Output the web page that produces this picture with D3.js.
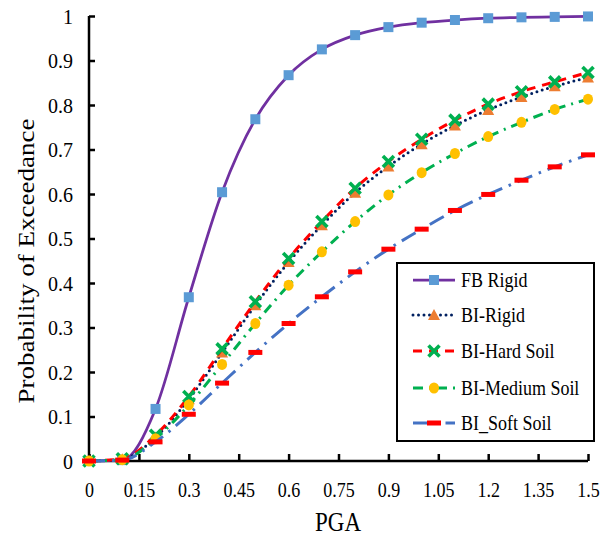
<!DOCTYPE html>
<html><head><meta charset="utf-8">
<script src="https://cdn.jsdelivr.net/npm/d3@7"></script>
<style>body{margin:0;background:#fff}svg{display:block}text{font-family:"Liberation Serif","Times New Roman",serif;fill:#000}</style>
</head><body><svg id="c" width="611" height="538"></svg>
<script>
const pga = [0,0.1,0.2,0.3,0.4,0.5,0.6,0.7,0.8,0.9,1.0,1.1,1.2,1.3,1.4,1.5];
const fbRigid = [0,0.002,0.117,0.368,0.604,0.768,0.867,0.925,0.957,0.975,0.985,0.991,0.995,0.997,0.998,0.999];
const biRigid = [0,0.004,0.053,0.139,0.244,0.350,0.447,0.530,0.603,0.662,0.712,0.754,0.789,0.818,0.842,0.862];
const biHard = [0,0.005,0.058,0.145,0.252,0.358,0.455,0.538,0.613,0.673,0.723,0.766,0.802,0.830,0.852,0.873];
const biMedium = [0,0.003,0.050,0.126,0.217,0.309,0.395,0.470,0.538,0.598,0.648,0.691,0.729,0.761,0.790,0.813];
const biSoft = [0,0.002,0.043,0.105,0.175,0.244,0.309,0.369,0.425,0.476,0.521,0.563,0.599,0.631,0.661,0.688];
const seriesNames = ["FB Rigid","BI-Rigid","BI-Hard Soil","BI-Medium Soil","BI_Soft Soil"];
const xTicks = [0,0.15,0.3,0.45,0.6,0.75,0.9,1.05,1.2,1.35,1.5];
const yTicks = [0,0.1,0.2,0.3,0.4,0.5,0.6,0.7,0.8,0.9,1];

const svg = d3.select("#c");
const x = d3.scaleLinear().domain([0,1.5]).range([89,588]);
const y = d3.scaleLinear().domain([0,1]).range([461,16]);

const styles = [
  {values:fbRigid, color:"#7030A0", dash:null, width:2.75, marker:"square"},
  {values:biRigid, color:"#002060", dash:"0,5.5", width:3, cap:"round", marker:"triangle"},
  {values:biHard, color:"#FF0000", dash:"9,7", width:3, marker:"x"},
  {values:biMedium, color:"#00B050", dash:"10,6,2,6", width:3, marker:"circle"},
  {values:biSoft, color:"#4472C4", dash:"16,7,2.5,7", width:3, marker:"bar"}
];

function drawMarker(g, type, cx, cy){
  if(type==="square") g.append("rect").attr("x",cx-5).attr("y",cy-5).attr("width",10).attr("height",10).attr("fill","#5B9BD5");
  else if(type==="triangle") g.append("path").attr("d",`M${cx},${cy-6}L${cx+6},${cy+5}L${cx-6},${cy+5}Z`).attr("fill","#ED7D31");
  else if(type==="x") g.append("path").attr("d",`M${cx-5.5},${cy-5.5}L${cx+5.5},${cy+5.5}M${cx+5.5},${cy-5.5}L${cx-5.5},${cy+5.5}`).attr("stroke","#00B050").attr("stroke-width",3.6).attr("fill","none");
  else if(type==="circle") g.append("ellipse").attr("cx",cx).attr("cy",cy).attr("rx",5).attr("ry",5.5).attr("fill","#FFC000");
  else if(type==="bar") g.append("rect").attr("x",cx-7).attr("y",cy-2.5).attr("width",14).attr("height",5).attr("fill","#FF0000");
}

// axes
const xAxis = d3.axisBottom(x).tickValues(xTicks).tickSize(-7).tickFormat(d=>String(+d.toFixed(2)));
const yAxis = d3.axisLeft(y).tickValues(yTicks).tickSize(-6).tickPadding(16).tickFormat(d=>String(+d.toFixed(1)));
const gx = svg.append("g").attr("transform","translate(0,461)").call(xAxis);
const gy = svg.append("g").attr("transform","translate(89,0)").call(yAxis);
gx.select(".domain").attr("stroke","#000").attr("stroke-width",2.5).attr("d","M89,0H588");
gy.select(".domain").attr("stroke","#000").attr("stroke-width",2.5).attr("d","M0,16V461");
svg.selectAll(".tick line").attr("stroke","#000").attr("stroke-width",2.5);
gx.selectAll(".tick text").attr("font-size",18).attr("font-family","Liberation Serif, serif")
  .attr("y",0).attr("dy",0).attr("transform","translate(0,36) scale(1,1.18)");
gy.selectAll(".tick text").attr("font-size",20).attr("font-family","Liberation Serif, serif")
  .attr("transform","scale(1,1.1)").attr("dy","0.33em");

// series
const line = d3.line().x((d,i)=>x(pga[i])).y(d=>y(d)).curve(d3.curveMonotoneX);
styles.forEach(s=>{
  const g = svg.append("g");
  g.append("path").attr("d",line(s.values)).attr("fill","none").attr("stroke",s.color)
    .attr("stroke-width",s.width).attr("stroke-dasharray",s.dash).attr("stroke-linecap",s.cap||"butt");
  s.values.forEach((v,i)=>drawMarker(g,s.marker,x(pga[i]),y(v)));
});

// axis titles
svg.append("text").attr("transform","translate(338,531) scale(1,1.2)").attr("text-anchor","middle").attr("font-size",23).text("PGA");
svg.append("text").attr("transform","translate(34,261) scale(1,1.2) rotate(-90)").attr("text-anchor","middle").attr("font-size",22.5).text("Probability of Exceedance");

// legend
const lg = svg.append("g");
lg.append("rect").attr("x",397).attr("y",263).attr("width",197).attr("height",178).attr("fill","#fff").attr("stroke","#000").attr("stroke-width",2);
const ly = [280,315,351,388,423];
styles.forEach((s,i)=>{
  const g = lg.append("g");
  g.append("path").attr("d",`M413,${ly[i]}H455`).attr("fill","none").attr("stroke",s.color)
    .attr("stroke-width",s.width).attr("stroke-dasharray",s.dash).attr("stroke-linecap",s.cap||"butt");
  drawMarker(g,s.marker,434,ly[i]);
  g.append("text").attr("transform",`translate(461,${ly[i]+6.5}) scale(1,1.15)`).attr("font-size",18).text(seriesNames[i]);
});
</script></body></html>
